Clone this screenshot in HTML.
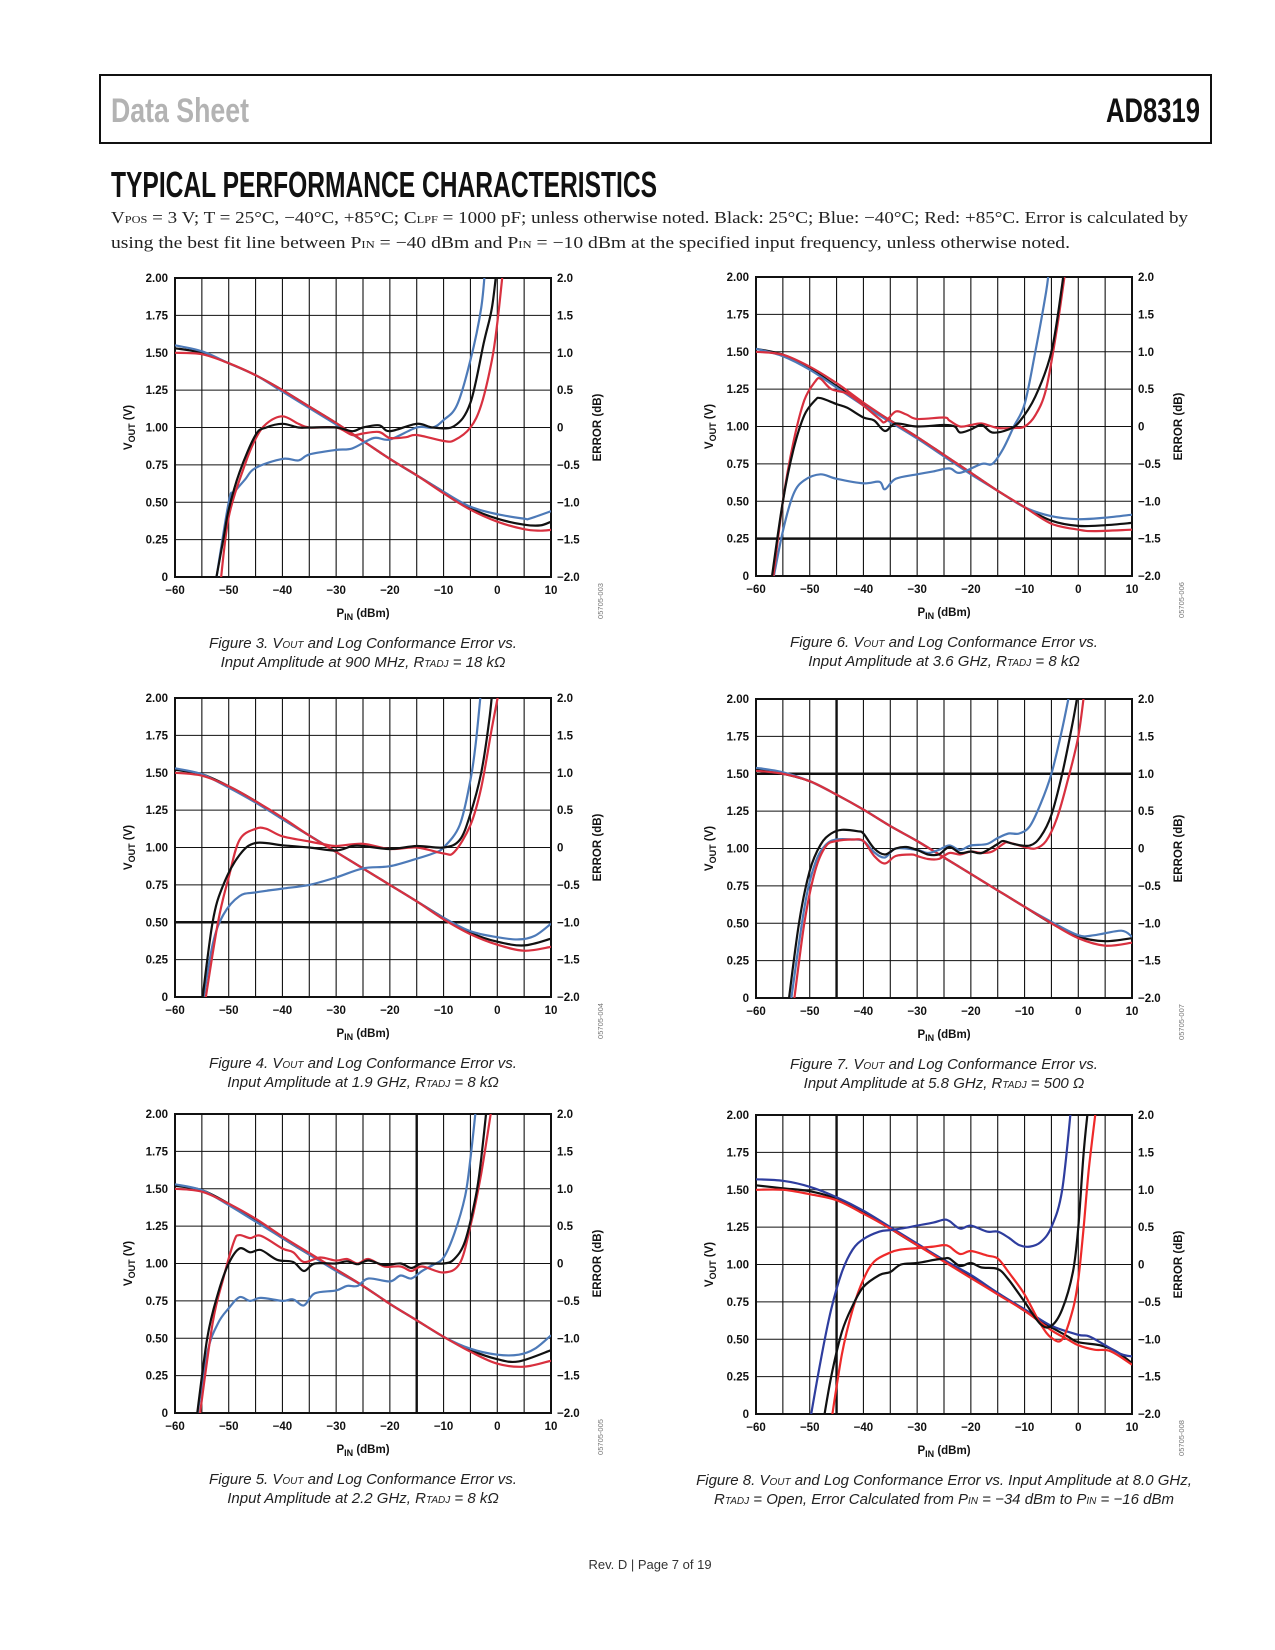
<!DOCTYPE html>
<html><head><meta charset="utf-8"><style>
html,body{margin:0;padding:0;background:#fff}
svg{display:block}
text{font-family:"Liberation Sans",sans-serif}
.tk{font-size:11.5px;font-weight:bold;fill:#111}
.cap{font-size:15px;font-style:italic;fill:#222}
</style></head><body>
<svg id="page" width="1275" height="1650" viewBox="0 0 1275 1650" xmlns="http://www.w3.org/2000/svg">
<rect x="100" y="75" width="1111" height="68" fill="none" stroke="#111" stroke-width="2"/>
<text x="111" y="122" font-size="34" fill="#b3b3b3" font-weight="bold" textLength="138" lengthAdjust="spacingAndGlyphs" style="font-family:'Liberation Sans Narrow','Liberation Sans',sans-serif">Data Sheet</text>
<text x="1106" y="122" font-size="34" fill="#111" font-weight="bold" textLength="94" lengthAdjust="spacingAndGlyphs" style="font-family:'Liberation Sans Narrow','Liberation Sans',sans-serif">AD8319</text>
<text x="111" y="197" font-size="36" fill="#111" font-weight="bold" textLength="546" lengthAdjust="spacingAndGlyphs" style="font-family:'Liberation Sans Narrow','Liberation Sans',sans-serif">TYPICAL PERFORMANCE CHARACTERISTICS</text>
<text x="111" y="223" font-size="17" fill="#222" textLength="1077" lengthAdjust="spacingAndGlyphs" style="font-family:'Liberation Serif',serif">V<tspan font-size="11">POS</tspan> = 3 V; T = 25°C, −40°C, +85°C; C<tspan font-size="11">LPF</tspan> = 1000 pF; unless otherwise noted. Black: 25°C; Blue: −40°C; Red: +85°C. Error is calculated by</text>
<text x="111" y="248" font-size="17" fill="#222" textLength="959" lengthAdjust="spacingAndGlyphs" style="font-family:'Liberation Serif',serif">using the best fit line between P<tspan font-size="11">IN</tspan> = −40 dBm and P<tspan font-size="11">IN</tspan> = −10 dBm at the specified input frequency, unless otherwise noted.</text>
<text x="650" y="1569" font-size="13" fill="#333" text-anchor="middle">Rev. D | Page 7 of 19</text>
</svg>
<script>
const xTicks=[-60,-50,-40,-30,-20,-10,0,10];
const vTicks=[0,0.25,0.5,0.75,1.0,1.25,1.5,1.75,2.0];
const vTickLabels=["0","0.25","0.50","0.75","1.00","1.25","1.50","1.75","2.00"];
const eTickLabels=["−2.0","−1.5","−1.0","−0.5","0","0.5","1.0","1.5","2.0"];
const xTickLabels=["−60","−50","−40","−30","−20","−10","0","10"];

// Figure 3
const f3VBlack=[[-60,1.53],[-55,1.5],[-50,1.43],[-45,1.35],[-40,1.25],[-35,1.14],[-30,1.03],[-25,0.91],[-20,0.79],[-15,0.68],[-10,0.57],[-5,0.46],[0,0.39],[5,0.35],[8,0.345],[10,0.37]];
const f3VBlue=[[-60,1.55],[-55,1.51],[-50,1.43],[-45,1.35],[-40,1.24],[-35,1.13],[-30,1.02],[-25,0.91],[-20,0.79],[-15,0.68],[-10,0.57],[-5,0.47],[0,0.42],[5,0.39],[6,0.39],[10,0.44]];
const f3VRed=[[-60,1.5],[-55,1.49],[-50,1.43],[-45,1.35],[-40,1.25],[-35,1.14],[-30,1.03],[-25,0.91],[-20,0.79],[-15,0.68],[-10,0.56],[-5,0.45],[0,0.37],[5,0.32],[8,0.31],[10,0.315]];
const f3EBlack=[[-52.8,-2.2],[-51,-1.5],[-50,-1.1],[-48,-0.6],[-45,-0.1],[-43,0],[-40,0.05],[-37,0],[-35,0],[-30,0],[-27,-0.05],[-25,0],[-22,0.03],[-20,-0.05],[-15,0.05],[-12,0],[-8,0.02],[-5,0.33],[-2.5,1.14],[-1,1.6],[0,2.2]];
const f3EBlue=[[-52.7,-2.2],[-50,-1.0],[-49,-0.87],[-47,-0.7],[-45,-0.54],[-40,-0.42],[-37,-0.44],[-35,-0.36],[-30,-0.3],[-27,-0.28],[-23,-0.14],[-20,-0.16],[-15,0],[-12,0],[-10,0.1],[-7.5,0.3],[-5,0.9],[-3,1.6],[-2.2,2.2]];
const f3ERed=[[-51.7,-2.2],[-50,-1.2],[-47,-0.5],[-45,-0.15],[-43,0.05],[-40,0.15],[-37,0.05],[-35,0],[-30,0],[-27,-0.1],[-25,-0.08],[-22,-0.06],[-20,-0.14],[-17,-0.13],[-15,-0.1],[-10,-0.18],[-8,-0.17],[-5,0],[-3,0.3],[-1,0.9],[0,1.4],[1.2,2.2]];
// Figure 4
const f4VBlack=[[-60,1.52],[-55,1.49],[-50,1.41],[-45,1.31],[-40,1.19],[-35,1.08],[-30,0.97],[-25,0.86],[-20,0.75],[-15,0.64],[-10,0.53],[-5,0.43],[0,0.37],[5,0.345],[10,0.39]];
const f4VBlue=[[-60,1.53],[-55,1.49],[-50,1.4],[-45,1.3],[-40,1.19],[-35,1.08],[-30,0.97],[-25,0.86],[-20,0.75],[-15,0.64],[-10,0.53],[-5,0.44],[0,0.4],[4,0.385],[7,0.41],[10,0.49]];
const f4VRed=[[-60,1.5],[-55,1.48],[-50,1.41],[-45,1.31],[-40,1.2],[-35,1.08],[-30,0.97],[-25,0.86],[-20,0.75],[-15,0.64],[-10,0.52],[-5,0.42],[0,0.35],[5,0.31],[10,0.335]];
const f4EBlack=[[-55.2,-2.2],[-53,-1.0],[-51,-0.5],[-48,-0.1],[-45,0.06],[-40,0.03],[-35,0],[-30,-0.04],[-27,0.02],[-25,0.02],[-20,-0.02],[-15,0.02],[-10,0],[-7,0.1],[-5,0.45],[-3,1.0],[-1.5,1.7],[-0.8,2.2]];
const f4EBlue=[[-55.1,-2.2],[-53,-1.3],[-51,-0.9],[-48,-0.65],[-45,-0.6],[-40,-0.55],[-35,-0.5],[-30,-0.4],[-25,-0.28],[-20,-0.25],[-15,-0.15],[-12,-0.08],[-10,0],[-7,0.3],[-5,0.9],[-4,1.4],[-2.9,2.2]];
const f4ERed=[[-54.7,-2.2],[-52,-1.0],[-50,-0.4],[-48,0.1],[-45,0.25],[-43,0.25],[-40,0.15],[-35,0.08],[-32,0.04],[-30,0.02],[-25,0.05],[-20,-0.02],[-15,0],[-10,-0.08],[-8,-0.06],[-5,0.3],[-3,0.8],[-1,1.6],[0.6,2.2]];
// Figure 5
const f5VBlack=[[-60,1.52],[-55,1.49],[-50,1.4],[-45,1.29],[-40,1.17],[-35,1.06],[-30,0.96],[-25,0.85],[-20,0.73],[-15,0.62],[-10,0.51],[-5,0.42],[0,0.36],[4,0.345],[10,0.42]];
const f5VBlue=[[-60,1.53],[-55,1.49],[-50,1.39],[-45,1.28],[-40,1.17],[-35,1.06],[-30,0.95],[-25,0.85],[-20,0.73],[-15,0.62],[-10,0.51],[-5,0.43],[0,0.39],[4,0.39],[7,0.43],[10,0.52]];
const f5VRed=[[-60,1.5],[-55,1.48],[-50,1.4],[-45,1.3],[-40,1.18],[-35,1.07],[-30,0.96],[-25,0.85],[-20,0.73],[-15,0.62],[-10,0.51],[-5,0.41],[0,0.33],[5,0.31],[10,0.35]];
const f5EBlack=[[-56.2,-2.2],[-54,-1.0],[-52,-0.4],[-50,0],[-48,0.2],[-46,0.15],[-44,0.18],[-41,0.05],[-38,0.02],[-36,-0.1],[-34,0],[-30,0],[-28,0.03],[-26,-0.01],[-24,0.04],[-21,-0.02],[-18,0],[-16,-0.06],[-14,0],[-10,0],[-8,0.06],[-6,0.3],[-4,0.9],[-3,1.4],[-1.8,2.2]];
const f5EBlue=[[-56.2,-2.2],[-54,-1.2],[-52,-0.8],[-50,-0.6],[-48,-0.45],[-46,-0.5],[-44,-0.46],[-40,-0.5],[-38,-0.48],[-36,-0.56],[-34,-0.4],[-30,-0.36],[-28,-0.3],[-26,-0.3],[-24,-0.2],[-20,-0.24],[-18,-0.16],[-16,-0.2],[-14,-0.1],[-12,-0.02],[-10,0.08],[-8,0.4],[-6,0.9],[-5,1.4],[-3.8,2.2]];
const f5ERed=[[-55.7,-2.2],[-53,-0.8],[-51,-0.2],[-49,0.3],[-48,0.38],[-46,0.34],[-44,0.37],[-40,0.2],[-38,0.15],[-36,0.02],[-33,0.08],[-30,0.04],[-28,0.06],[-26,0],[-24,0.06],[-21,-0.04],[-18,-0.04],[-16,-0.1],[-14,-0.04],[-10,-0.12],[-7,0],[-5,0.5],[-3,1.2],[-0.8,2.2]];
// Figure 6
const f6VBlack=[[-60,1.52],[-55,1.48],[-50,1.39],[-45,1.27],[-40,1.15],[-35,1.04],[-30,0.93],[-25,0.81],[-20,0.69],[-15,0.57],[-10,0.46],[-5,0.37],[0,0.335],[5,0.34],[10,0.355]];
const f6VBlue=[[-60,1.52],[-55,1.47],[-50,1.38],[-45,1.26],[-40,1.14],[-35,1.03],[-30,0.92],[-25,0.8],[-20,0.68],[-15,0.57],[-10,0.46],[-5,0.4],[0,0.38],[5,0.39],[10,0.41]];
const f6VRed=[[-60,1.5],[-55,1.48],[-50,1.4],[-45,1.29],[-40,1.16],[-35,1.04],[-30,0.93],[-25,0.81],[-20,0.69],[-15,0.57],[-10,0.46],[-5,0.35],[0,0.31],[3,0.3],[10,0.31]];
const f6EBlack=[[-57.4,-2.2],[-55,-1.0],[-53,-0.3],[-51,0.15],[-49,0.35],[-48,0.38],[-45,0.3],[-43,0.25],[-40,0.12],[-38,0.08],[-36,-0.06],[-34,0.04],[-30,0],[-25,0.02],[-23,0],[-22,-0.08],[-20,-0.04],[-18,0.02],[-16,-0.08],[-13,-0.04],[-11,0.06],[-8,0.4],[-5,1.0],[-3,1.9],[-2.6,2.2]];
const f6EBlue=[[-57.2,-2.2],[-55,-1.4],[-53,-0.9],[-51,-0.72],[-48,-0.64],[-45,-0.7],[-40,-0.76],[-37,-0.74],[-36,-0.84],[-34,-0.7],[-30,-0.64],[-27,-0.6],[-24,-0.56],[-22,-0.62],[-18,-0.5],[-16,-0.5],[-14,-0.3],[-12,0],[-10,0.3],[-8,1.0],[-6,1.8],[-5.3,2.2]];
const f6ERed=[[-57.1,-2.2],[-55,-1.0],[-53,-0.2],[-51,0.35],[-49,0.6],[-48,0.64],[-46,0.5],[-43,0.44],[-40,0.28],[-37,0.1],[-36,0.06],[-34,0.2],[-32,0.16],[-30,0.1],[-25,0.12],[-24,0.08],[-22,0],[-20,0.02],[-18,0.04],[-15,-0.02],[-12,-0.02],[-10,0],[-8,0.15],[-6,0.5],[-4,1.3],[-2.2,2.2]];
// Figure 7
const f7VBlack=[[-60,1.53],[-55,1.5],[-50,1.45],[-45,1.36],[-40,1.26],[-35,1.15],[-30,1.05],[-25,0.94],[-20,0.83],[-15,0.72],[-10,0.61],[-5,0.5],[0,0.41],[5,0.38],[10,0.4]];
const f7VBlue=[[-60,1.54],[-55,1.51],[-50,1.45],[-45,1.36],[-40,1.26],[-35,1.15],[-30,1.05],[-25,0.94],[-20,0.83],[-15,0.72],[-10,0.61],[-5,0.51],[0,0.42],[3,0.42],[8,0.45],[10,0.41]];
const f7VRed=[[-60,1.52],[-55,1.5],[-50,1.45],[-45,1.36],[-40,1.26],[-35,1.15],[-30,1.05],[-25,0.94],[-20,0.83],[-15,0.72],[-10,0.61],[-5,0.5],[0,0.4],[5,0.35],[10,0.37]];
const f7EBlack=[[-54.2,-2.2],[-52,-1.0],[-50,-0.3],[-48,0.05],[-46,0.2],[-44,0.25],[-41,0.23],[-40,0.2],[-38,0],[-36,-0.08],[-34,0],[-32,0.02],[-30,-0.02],[-28,-0.08],[-26,-0.08],[-24,0.02],[-22,-0.06],[-20,-0.04],[-18,-0.06],[-15,0.06],[-14,0.1],[-12,0.06],[-9,0.04],[-7,0.16],[-5,0.45],[-3,1.0],[-1,1.7],[0.2,2.2]];
const f7EBlue=[[-53.8,-2.2],[-51,-0.8],[-49,-0.2],[-47,0.05],[-45,0.12],[-42,0.12],[-40,0.1],[-38,-0.05],[-36,-0.12],[-34,0],[-30,-0.02],[-28,-0.06],[-26,-0.02],[-24,0.04],[-22,-0.02],[-20,0.04],[-17,0.06],[-15,0.14],[-13,0.2],[-11,0.2],[-9,0.3],[-7,0.6],[-5,1.0],[-3,1.6],[-1.3,2.2]];
const f7ERed=[[-53.2,-2.2],[-51,-1.0],[-49,-0.3],[-47,0.03],[-45,0.1],[-42,0.12],[-40,0.1],[-38,-0.1],[-36,-0.2],[-34,-0.1],[-31,-0.08],[-30,-0.1],[-28,-0.14],[-26,-0.14],[-24,-0.06],[-22,-0.08],[-20,-0.04],[-18,-0.06],[-16,-0.04],[-14,0.06],[-13,0.08],[-10,0.02],[-8,0],[-6,0.1],[-4,0.4],[-2,0.9],[0,1.5],[1.3,2.2]];
// Figure 8
const f8VBlack=[[-60,1.53],[-55,1.51],[-50,1.49],[-45,1.44],[-40,1.35],[-35,1.24],[-30,1.13],[-25,1.03],[-20,0.92],[-15,0.81],[-10,0.69],[-5,0.58],[-2,0.52],[0,0.48],[4,0.46],[7,0.42],[10,0.34]];
const f8VBlue=[[-60,1.57],[-55,1.56],[-50,1.52],[-45,1.45],[-40,1.36],[-35,1.25],[-30,1.14],[-25,1.03],[-20,0.93],[-15,0.81],[-10,0.7],[-5,0.59],[0,0.53],[2,0.52],[5,0.46],[8,0.4],[10,0.385]];
const f8VRed=[[-60,1.5],[-55,1.5],[-50,1.47],[-45,1.43],[-40,1.34],[-35,1.24],[-30,1.13],[-25,1.02],[-20,0.91],[-15,0.8],[-10,0.69],[-5,0.56],[-2,0.5],[0,0.46],[3,0.43],[6,0.42],[10,0.33]];
const f8EBlack=[[-47.7,-2.2],[-46,-1.5],[-44,-0.9],[-42,-0.55],[-40,-0.3],[-37,-0.14],[-35,-0.1],[-33,0],[-30,0.02],[-27,0.06],[-25,0.08],[-24,0.08],[-22,-0.02],[-20,0.02],[-18,-0.04],[-15,-0.06],[-13,-0.2],[-10,-0.5],[-7,-0.8],[-5,-0.82],[-3,-0.6],[-1,-0.1],[0,0.5],[1,1.5],[2,2.2]];
const f8EBlue=[[-50.2,-2.2],[-48,-1.3],[-46,-0.6],[-44,-0.1],[-42,0.2],[-40,0.34],[-37,0.44],[-35,0.46],[-33,0.48],[-30,0.52],[-27,0.56],[-25,0.6],[-24,0.58],[-22,0.48],[-20,0.52],[-17,0.44],[-15,0.44],[-13,0.36],[-11,0.26],[-9,0.24],[-7,0.3],[-5,0.5],[-3,1.0],[-1.2,2.2]];
const f8ERed=[[-46.2,-2.2],[-44,-1.2],[-42,-0.6],[-40,-0.2],[-38,0.04],[-35,0.16],[-33,0.2],[-30,0.22],[-27,0.24],[-25,0.26],[-24,0.24],[-22,0.14],[-20,0.18],[-17,0.12],[-15,0.08],[-13,-0.1],[-10,-0.4],[-7,-0.8],[-5,-0.98],[-3,-1.0],[-1,-0.6],[0,-0.2],[1,0.5],[2,1.3],[3.5,2.2]];

const NS="http://www.w3.org/2000/svg";
const svg=document.getElementById('page');
const BK="#111",BL="#4d7ab8",RD="#d8303f",BL8="#2e3d9e",RD8="#ee2a2a";

function el(tag,attrs,parent,txt){const e=document.createElementNS(NS,tag);for(const k in attrs)e.setAttribute(k,attrs[k]);if(txt!==undefined)e.textContent=txt;(parent||svg).appendChild(e);return e;}
function smooth(pts){let d="M"+pts[0][0].toFixed(1)+","+pts[0][1].toFixed(1);
 for(let i=0;i<pts.length-1;i++){const p0=pts[i-1]||pts[i],p1=pts[i],p2=pts[i+1],p3=pts[i+2]||p2;
  const c1=[p1[0]+(p2[0]-p0[0])/6,p1[1]+(p2[1]-p0[1])/6],c2=[p2[0]-(p3[0]-p1[0])/6,p2[1]-(p3[1]-p1[1])/6];
  d+=" C"+c1[0].toFixed(1)+","+c1[1].toFixed(1)+" "+c2[0].toFixed(1)+","+c2[1].toFixed(1)+" "+p2[0].toFixed(1)+","+p2[1].toFixed(1);}
 return d;}

function chart(o){
 const g=el('g',{});
 
 
 const x0=o.x0,y0=o.y0,w=376,h=299;
 const xs=p=>x0+(p+60)/70*w, yv=v=>y0+h-v/2*h, ye=e=>y0+h-(e+2)/4*h;
 for(let p=-55;p<10;p+=5){const l=el('line',{x1:xs(p),x2:xs(p),y1:y0,y2:y0+h,stroke:"#111","stroke-width":(o.thickX||[]).includes(p)?2.4:1.1},g);
  
  }
 for(let v=0.25;v<2;v+=0.25){const l=el('line',{x1:x0,x2:x0+w,y1:yv(v),y2:yv(v),stroke:"#111","stroke-width":(o.thickY||[]).includes(v)?2.4:1.1},g);
  
  }
 const fr=el('rect',{x:x0,y:y0,width:w,height:h,fill:"none",stroke:"#111","stroke-width":2},g);
 
 
 vTicks.forEach((v,i)=>{
  const a=el('text',{x:x0-7,y:yv(v)+4,"text-anchor":"end",class:"tk"},g,vTickLabels[i]);
  
  
  const b=el('text',{x:x0+w+6,y:yv(v)+4,class:"tk"},g,eTickLabels[i]);
  
  });
 xTicks.forEach((p,i)=>{const a=el('text',{x:xs(p),y:y0+h+17,"text-anchor":"middle",class:"tk"},g,xTickLabels[i]);
  
  });
 const xt=el('text',{x:x0+w/2,y:y0+h+40,"text-anchor":"middle",class:"tk","font-size":"12px"},g);
 
 
 xt.innerHTML='P<tspan font-size="9" dy="3">IN</tspan><tspan dy="-3"> (dBm)</tspan>';
 const yt=el('text',{x:0,y:0,"text-anchor":"middle",class:"tk","font-size":"12px",transform:`translate(${x0-43},${y0+h/2}) rotate(-90)`},g);
 
 
 yt.innerHTML='V<tspan font-size="9" dy="3">OUT</tspan><tspan dy="-3"> (V)</tspan>';
 const y2=el('text',{x:0,y:0,"text-anchor":"middle",class:"tk","font-size":"12px",transform:`translate(${x0+w+50},${y0+h/2}) rotate(-90)`},g,'ERROR (dB)');
 
 
 const cd=el('text',{x:0,y:0,"text-anchor":"middle","font-size":"7.5",fill:"#777",transform:`translate(${x0+w+52},${y0+h+24}) rotate(-90)`},g,o.code);
 
 
 const cid='clip'+o.fig;
 const cp=el('clipPath',{id:cid},g);el('rect',{x:x0,y:y0,width:w,height:h},cp);
 o.series.forEach(s=>{const pts=s.data.map(d=>[xs(d[0]),s.axis==='v'?yv(d[1]):ye(d[1])]);
  const p=el('path',{d:smooth(pts),fill:"none",stroke:s.color,"stroke-width":2.2,"clip-path":`url(#${cid})`,"stroke-linejoin":"round"},g);
  
  });
 const c1=el('text',{x:x0+w/2,y:y0+h+71,"text-anchor":"middle",class:"cap"},g);
 
 
 c1.innerHTML=o.cap1;
 const c2=el('text',{x:x0+w/2,y:y0+h+90,"text-anchor":"middle",class:"cap"},g);
 
 
 c2.innerHTML=o.cap2;
}
const VO='V<tspan font-size="10">OUT</tspan> and Log Conformance Error vs.';
const RT='R<tspan font-size="10">TADJ</tspan>';
function ser(vb,vbl,vr,eb,ebl,er,b,r){return[
 {data:vb,axis:'v',color:BK,name:'vout-25c-line'},{data:vbl,axis:'v',color:b,name:'vout-minus40c-line'},{data:vr,axis:'v',color:r,name:'vout-85c-line'},
 {data:ebl,axis:'e',color:b,name:'error-minus40c-line'},{data:er,axis:'e',color:r,name:'error-85c-line'},{data:eb,axis:'e',color:BK,name:'error-25c-line'}];}
chart({fig:3,x0:175,y0:278,code:'05705-003',series:ser(f3VBlack,f3VBlue,f3VRed,f3EBlack,f3EBlue,f3ERed,BL,RD),cap1:'Figure 3. '+VO,cap2:'Input Amplitude at 900 MHz, '+RT+' = 18 kΩ'});
chart({fig:4,x0:175,y0:698,code:'05705-004',thickY:[0.5],series:ser(f4VBlack,f4VBlue,f4VRed,f4EBlack,f4EBlue,f4ERed,BL,RD),cap1:'Figure 4. '+VO,cap2:'Input Amplitude at 1.9 GHz, '+RT+' = 8 kΩ'});
chart({fig:5,x0:175,y0:1114,code:'05705-005',thickX:[-15],series:ser(f5VBlack,f5VBlue,f5VRed,f5EBlack,f5EBlue,f5ERed,BL,RD),cap1:'Figure 5. '+VO,cap2:'Input Amplitude at 2.2 GHz, '+RT+' = 8 kΩ'});
chart({fig:6,x0:756,y0:277,code:'05705-006',thickY:[0.25],series:ser(f6VBlack,f6VBlue,f6VRed,f6EBlack,f6EBlue,f6ERed,BL,RD),cap1:'Figure 6. '+VO,cap2:'Input Amplitude at 3.6 GHz, '+RT+' = 8 kΩ'});
chart({fig:7,x0:756,y0:699,code:'05705-007',thickX:[-45],thickY:[1.5],series:ser(f7VBlack,f7VBlue,f7VRed,f7EBlack,f7EBlue,f7ERed,BL,RD),cap1:'Figure 7. '+VO,cap2:'Input Amplitude at 5.8 GHz, '+RT+' = 500 Ω'});
chart({fig:8,x0:756,y0:1115,code:'05705-008',thickX:[-45],series:ser(f8VBlack,f8VBlue,f8VRed,f8EBlack,f8EBlue,f8ERed,BL8,RD8),cap1:'Figure 8. V<tspan font-size="10">OUT</tspan> and Log Conformance Error vs. Input Amplitude at 8.0 GHz,',cap2:RT+' = Open, Error Calculated from P<tspan font-size="10">IN</tspan> = −34 dBm to P<tspan font-size="10">IN</tspan> = −16 dBm'});
</script>
</body></html>
